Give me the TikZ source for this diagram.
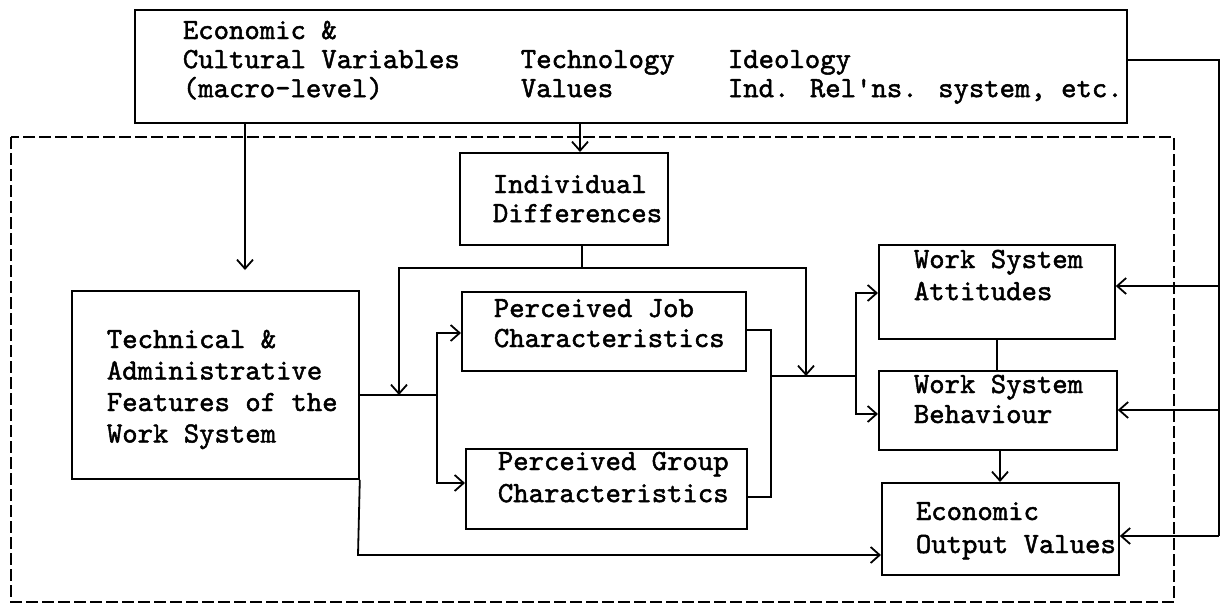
\documentclass[tikz,border=0pt]{standalone}
\usepackage{fontspec}
\usetikzlibrary{arrows.meta,calc}
\newfontfamily\twf{lmmono10-regular}[Extension=.otf,FakeBold=1.6]
\newcommand\tw{\fontsize{29.3}{30}\selectfont\twf}
\newcommand\tx[2][1]{{\renewcommand\arraystretch{#1}\begin{tabular}[t]{@{}l@{}}#2\end{tabular}}}
\begin{document}
\begin{tikzpicture}[x=1pt,y=-1pt,line width=1.8pt,
  box/.style={draw,line width=1.8pt,inner sep=0pt,anchor=north west},
  txt/.style={inner sep=0pt,anchor=base west,font=\tw},
  arr/.style={-{Straight Barb[length=9pt,width=16pt,line width=1.8pt]}},
  dashbox/.style={draw,line width=1.8pt,dash pattern=on 12pt off 4pt}]
\useasboundingbox (0,0) rectangle (1232,606);
% boxes
\node[box,minimum width=992pt,minimum height=113pt] (top) at (134,9) {};
\node[box,minimum width=208pt,minimum height=92pt] (ID) at (459,152) {};
\node[box,minimum width=287pt,minimum height=188pt] (tech) at (71,290) {};
\node[box,minimum width=284pt,minimum height=79pt] (PJC) at (461,291) {};
\node[box,minimum width=281pt,minimum height=80pt] (PGC) at (465,448) {};
\node[box,minimum width=236pt,minimum height=94pt] (WSA) at (878,244) {};
\node[box,minimum width=238pt,minimum height=79pt] (WSB) at (878,370) {};
\node[box,minimum width=237pt,minimum height=92pt] (EOV) at (881,482) {};
% texts
\node[txt] (topA) at (182,39) {\tx[0.97]{Economic \&\\Cultural Variables\\(macro-level)}};
\node[txt] (topB) at (520,68) {\tx[0.97]{Technology\\Values}};
\node[txt] (topC) at (727,68) {\tx[0.97]{Ideology\\Ind. Rel\textquotesingle ns. system, etc.}};
\node[txt] (IDt) at (492,193) {\tx[0.97]{Individual\\Differences}};
\node[txt] (techt) at (106,348) {\tx[1.05]{Technical \&\\Administrative\\Features of the\\Work System}};
\node[txt] (PJCt) at (493,317) {\tx[1.0]{Perceived Job\\Characteristics}};
\node[txt] (PGCt) at (497,470) {\tx[1.07]{Perceived Group\\Characteristics}};
\node[txt] (WSAt) at (913,268) {\tx[1.07]{Work System\\Attitudes}};
\node[txt] (WSBt) at (913,393) {\tx[1.0]{Work System\\Behaviour}};
\node[txt] (EOVt) at (915,520) {\tx[1.1]{Economic\\Output Values}};
% dashed frame
\draw[dashbox] (11,137) rectangle (1174,602);
% coordinates
\coordinate (tch) at (245,270);
\coordinate (xa) at (580,0);
\coordinate (hm) at (582,268);
\coordinate (hL) at (399,268);
\coordinate (hR) at (806,268);
\coordinate (t1) at (437,395);
\coordinate (t2) at (437,333);
\coordinate (t3) at (437,483);
\coordinate (r1) at (771,330);
\coordinate (r2) at (771,497);
\coordinate (r3) at (771,376);
\coordinate (r4) at (856,376);
\coordinate (r5) at (856,293);
\coordinate (r6) at (856,414);
\coordinate (xw) at (997,0);
\coordinate (xe) at (1000,0);
\coordinate (b1) at (358,555);
\coordinate (fb1) at (1219,60);
\coordinate (fbA) at (1219,286);
\coordinate (fbB) at (1219,410);
\coordinate (fbC) at (1219,536);
% connectors
\draw[arr] (tch |- top.south) -- (tch);
\draw[arr] (xa |- top.south) -- (xa |- ID.north);
\draw (hm |- ID.south) -- (hm);
\draw[arr] (hm) -- (hL) -- (hL |- t1);
\draw[arr] (hm) -- (hR) -- (hR |- r3);
\draw (tech.east |- t1) -- (t1);
\draw[arr] (t1) -- (t2) -- (PJC.west |- t2);
\draw[arr] (t1) -- (t3) -- (PGC.west |- t3);
\draw (PJC.east |- r1) -- (r1) -- (r2) -- (PGC.east |- r2);
\draw (r3) -- (r4);
\draw[arr] (r4) -- (r5) -- (WSA.west |- r5);
\draw[arr] (r4) -- (r6) -- (WSB.west |- r6);
\draw (xw |- WSA.south) -- (xw |- WSB.north);
\draw[arr] (xe |- WSB.south) -- (xe |- EOV.north);
\draw[arr] (tech.south east) -- (b1) -- (EOV.west |- b1);
\draw (top.east |- fb1) -- (fb1) -- (fbC);
\draw[arr] (fbA) -- (WSA.east |- fbA);
\draw[arr] (fbB) -- (WSB.east |- fbB);
\draw[arr] (fbC) -- (EOV.east |- fbC);
\end{tikzpicture}
\end{document}
